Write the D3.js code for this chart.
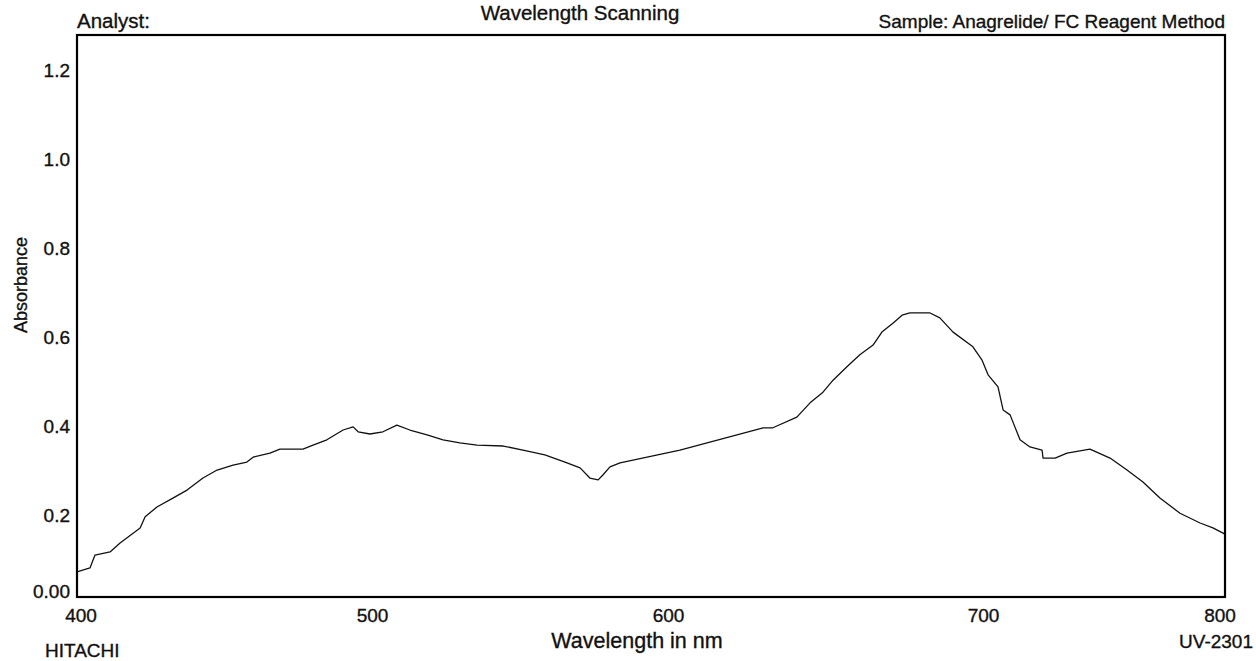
<!DOCTYPE html>
<html>
<head>
<meta charset="utf-8">
<script src="https://cdn.jsdelivr.net/npm/d3@7"></script>
<style>
  html, body { margin: 0; padding: 0; background: #fff; }
  svg { display: block; font-family: "Liberation Sans", Arial, sans-serif; }
  text { paint-order: stroke; stroke: #111; stroke-width: 0.35px; }
</style>
</head>
<body>
<svg id="chart" width="1256" height="661"></svg>
<script>
// ---- data ----
const wavelength = [400.0,404.4,406.1,411.2,414.6,421.4,423.1,427.1,432.5,437.3,442.7,447.5,452.9,457.6,459.7,465.4,468.8,476.6,480.0,484.7,490.2,493.6,495.3,499.3,503.7,508.4,512.8,518.6,524.0,529.7,535.5,544.3,551.0,558.4,565.2,570.3,573.6,576.4,578.0,580.4,583.8,603.8,630.2,633.3,640.9,645.1,649.2,652.4,656.8,660.9,665.1,667.9,671.4,674.3,676.8,683.2,686.3,690.5,696.8,699.7,702.1,706.2,708.3,711.2,715.3,719.4,724.4,724.8,729.8,734.7,744.2,752.5,759.5,766.1,773.1,781.4,789.7,795.0,800.0];
const absorbance = [0.072,0.081,0.110,0.117,0.137,0.171,0.196,0.218,0.238,0.256,0.283,0.301,0.312,0.319,0.330,0.339,0.348,0.348,0.357,0.369,0.391,0.398,0.387,0.382,0.387,0.402,0.391,0.380,0.369,0.362,0.357,0.355,0.346,0.335,0.319,0.306,0.283,0.279,0.290,0.308,0.317,0.346,0.396,0.396,0.420,0.452,0.476,0.503,0.533,0.560,0.582,0.611,0.631,0.649,0.654,0.654,0.643,0.611,0.578,0.548,0.515,0.488,0.436,0.425,0.369,0.353,0.346,0.328,0.328,0.339,0.348,0.328,0.301,0.274,0.238,0.204,0.182,0.171,0.157];
const xTicks = [400, 500, 600, 700, 800];
const yTicks = [0, 0.2, 0.4, 0.6, 0.8, 1.0, 1.2];
const yTickLabels = ["0.00", "0.2", "0.4", "0.6", "0.8", "1.0", "1.2"];
const headerLeft = "Analyst:";
const headerCenter = "Wavelength Scanning";
const headerRight = "Sample: Anagrelide/ FC Reagent Method";
const footerLeft = "HITACHI";
const footerRight = "UV-2301";
const xTitle = "Wavelength in nm";
const yTitle = "Absorbance";

// ---- layout ----
const svg = d3.select("#chart");
const L = 77, R = 1225, T = 35, B = 597;
const FS = 19;

// instrument printout places its wavelength labels non-uniformly
const x = d3.scaleLinear().domain(xTicks).range([L, 372, 668, 983, R]);
const y = d3.scaleLinear().domain([0.0157, 1.2787]).range([B, T]).clamp(true);

// curve
const line = d3.line().x((d, i) => x(wavelength[i])).y((d, i) => y(absorbance[i]));
svg.append("path")
  .datum(absorbance)
  .attr("d", line)
  .attr("fill", "none")
  .attr("stroke", "#111")
  .attr("stroke-width", 1.3)
  .attr("stroke-linejoin", "round");

// frame
svg.append("rect")
  .attr("x", L).attr("y", T)
  .attr("width", R - L).attr("height", B - T)
  .attr("fill", "none").attr("stroke", "#000").attr("stroke-width", 2.2);

// y axis labels
const yAxis = d3.axisLeft(y).tickValues(yTicks).tickSize(0).tickPadding(7)
  .tickFormat((d, i) => yTickLabels[i]);
const gy = svg.append("g").attr("transform", `translate(${L},0)`).call(yAxis);
gy.select(".domain").remove();
gy.selectAll("text").attr("font-size", FS).attr("fill", "#111")
  .attr("font-family", "Liberation Sans, Arial, sans-serif")
  .attr("dy", (d, i) => i === 0 ? "-0.0em" : "0.32em");

// x axis labels
const xAxis = d3.axisBottom(x).tickValues(xTicks).tickSize(0).tickPadding(12);
const gx = svg.append("g").attr("transform", `translate(0,${B})`).call(xAxis);
gx.select(".domain").remove();
gx.selectAll("text").attr("font-size", FS).attr("fill", "#111")
  .attr("font-family", "Liberation Sans, Arial, sans-serif");
gx.selectAll(".tick").filter(d => d === 400).attr("transform", `translate(${x(400) + 4},0)`);
gx.selectAll(".tick").filter(d => d === 800).attr("transform", `translate(${x(800) - 5},0)`);

// header / footer text
const txt = (s, tx, ty, anchor, fs) => svg.append("text")
  .attr("x", tx).attr("y", ty).attr("text-anchor", anchor)
  .attr("font-size", fs || FS).attr("fill", "#111").text(s);
txt(headerLeft, L, 28, "start", 20.5);
txt(headerCenter, 580, 20, "middle", 20.5);
txt(headerRight, R, 28, "end");
txt(footerLeft, 45, 657, "start");
txt(xTitle, 637, 648, "middle", 21.5);
txt(footerRight, 1253, 648, "end");

svg.append("text")
  .attr("transform", `translate(27,285) rotate(-90)`)
  .attr("text-anchor", "middle")
  .attr("font-size", 18).attr("fill", "#111").text(yTitle);
</script>
</body>
</html>
